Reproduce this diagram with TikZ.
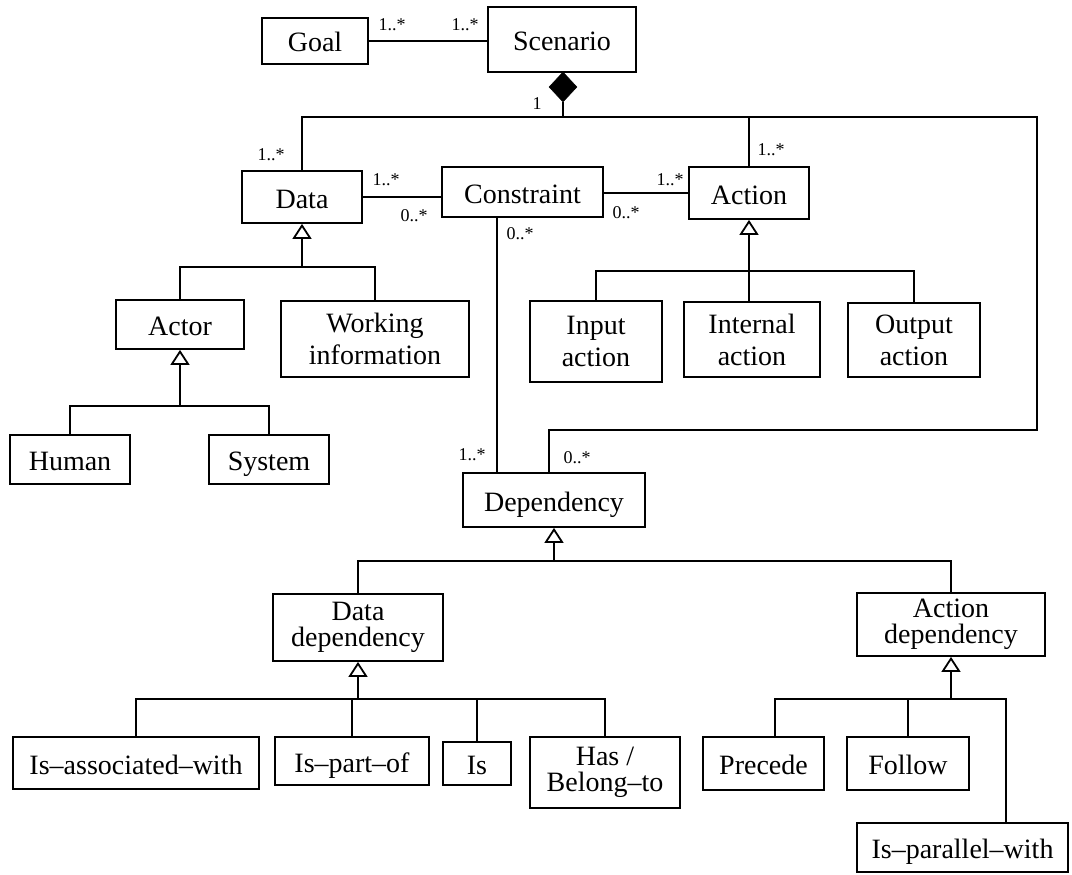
\documentclass[tikz,border=0pt]{standalone}
\usepackage{fontspec}
\setmainfont{Liberation Serif}
\usetikzlibrary{arrows.meta,shapes.geometric}
\newcommand\bx[7][]{\node[box,#1,minimum width={(#4)-(#2)},minimum height={(#5)-(#3)}] (#6) at ({((#2)+(#4))/2},{((#3)+(#5))/2}) {#7};}
\begin{document}
\begin{tikzpicture}[x=1pt,y=-1pt,line width=1.8pt,
  box/.style={draw,line width=1.8pt,inner sep=0pt,align=center,font=\fontsize{28}{32}\selectfont,text height=22pt,text depth=0pt},
  multi/.style={text height=,text depth=},
  tight/.style={multi,font=\fontsize{28}{26}\selectfont},
  mult/.style={inner sep=0pt,font=\fontsize{18}{18}\selectfont},
  gen/.style={-{Triangle[open,width=19pt,length=15pt,line width=1.8pt]}},
  comp/.style={diamond,fill=black,draw=black,line width=0.5pt,inner sep=0pt,minimum width=28pt,minimum height=30pt}]
\useasboundingbox (0,0) rectangle (1072,875);
% boxes: left, top, right, bottom
\bx{262}{18}{368}{64}{goal}{Goal}
\bx{488}{7}{636}{72}{scen}{Scenario}
\bx{242}{171}{362}{223}{data}{Data}
\bx{442}{167}{603}{217}{cons}{Constraint}
\bx{689}{167}{809}{219}{act}{Action}
\bx{116}{300}{244}{349}{actor}{Actor}
\bx[multi]{281}{301}{469}{377}{wi}{Working\\information}
\bx{10}{435}{130}{484}{human}{Human}
\bx{209}{435}{329}{484}{system}{System}
\bx[multi]{530}{301}{662}{382}{inp}{Input\\action}
\bx[multi]{684}{302}{820}{377}{intl}{Internal\\action}
\bx[multi]{848}{303}{980}{377}{outp}{Output\\action}
\bx{463}{473}{645}{527}{dep}{Dependency}
\bx[tight]{273}{594}{443}{661}{ddep}{Data\\dependency}
\bx[tight]{857}{593}{1045}{656}{adep}{Action\\dependency}
\bx{13}{737}{259}{789}{isassoc}{Is--associated--with}
\bx{275}{737}{429}{785}{ispart}{Is--part--of}
\bx{443}{742}{511}{785}{is}{Is}
\bx[tight]{530}{737}{680}{808}{has}{Has /\\Belong--to}
\bx{703}{737}{824}{790}{prec}{Precede}
\bx{847}{737}{969}{790}{foll}{Follow}
\bx{857}{823}{1068}{872}{ispar}{Is--parallel--with}
% composition diamond
\node[comp] (dia) at (563,87) {};
% coordinates of the wiring
\coordinate (tr) at (1037,117);
\coordinate (lp) at (549,430);
\coordinate (cv) at (497,300);
\coordinate (pv) at (775,699);
\coordinate (iv) at (1006,699);
% associations
\draw (goal.east) -- (goal.east -| scen.west);
\draw (data.north) |- (tr) |- (lp) -- (lp |- dep.north);
\draw (dia.south) -- (dia.south |- tr);
\draw (act.north) -- (act.north |- tr);
\draw (data.east) -- (data.east -| cons.west);
\draw (cons.east |- act.west) -- (act.west);
\draw (cv |- cons.south) -- (cv |- dep.north);
% generalizations
\draw[gen] (data.south |- 0,267) -- (data.south);
\draw (actor.north) |- (wi.north |- 0,267) -- (wi.north);
\draw[gen] (actor.south |- 0,406) -- (actor.south);
\draw (human.north) |- (system.north |- 0,406) -- (system.north);
\draw[gen] (act.south |- 0,271) -- (act.south);
\draw (inp.north) |- (outp.north |- 0,271) -- (outp.north);
\draw (act.south |- 0,271) -- (act.south |- intl.north);
\draw[gen] (dep.south |- 0,561) -- (dep.south);
\draw (ddep.north) |- (adep.north |- 0,561) -- (adep.north);
\draw[gen] (ddep.south |- 0,699) -- (ddep.south);
\draw (isassoc.north) |- (has.north |- 0,699) -- (has.north);
\draw (ispart.north) -- (ispart.north |- 0,699);
\draw (is.north) -- (is.north |- 0,699);
\draw[gen] (adep.south |- pv) -- (adep.south);
\draw (pv |- prec.north) -- (pv) -- (iv) -- (iv |- ispar.north);
\draw (foll.north) -- (foll.north |- pv);
% multiplicities
\node[mult] (m1) at (392,25) {1..*};
\node[mult] (m2) at (465,25) {1..*};
\node[mult] (m3) at (537,104) {1};
\node[mult] (m4) at (271,155) {1..*};
\node[mult] (m5) at (386,180) {1..*};
\node[mult] (m6) at (414,216) {0..*};
\node[mult] (m7) at (520,234) {0..*};
\node[mult] (m8) at (670,180) {1..*};
\node[mult] (m9) at (626,213) {0..*};
\node[mult] (m10) at (771,150) {1..*};
\node[mult] (m11) at (472,455) {1..*};
\node[mult] (m12) at (577,458) {0..*};
\end{tikzpicture}
\end{document}
